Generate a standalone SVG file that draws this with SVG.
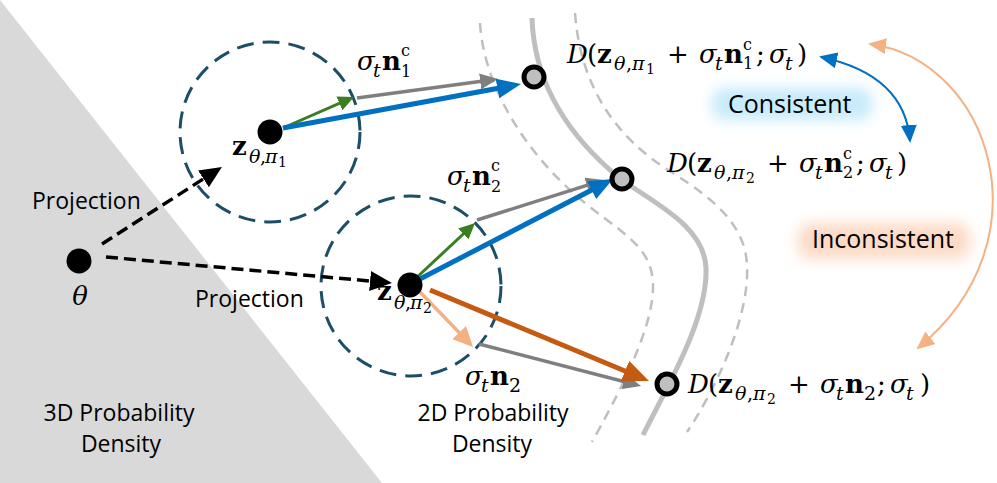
<svg xmlns="http://www.w3.org/2000/svg" width="997" height="483" viewBox="0 0 997 483">
<style>
.m{font-family:"DejaVu Serif","Liberation Serif",serif;font-size:26px;fill:#000}
.i{font-style:italic}
.b{font-weight:bold}
.s{font-size:19px}
.ss{font-size:14px}
.sc{font-size:16px}
.lbl{font-family:"Open Sans","Noto Sans","Liberation Sans",sans-serif;font-size:23px;fill:#000}
.big{font-size:25px}
.dens{fill:none;stroke:#bfbfbf;stroke-width:2.5;stroke-dasharray:10 7}
.circ{fill:none;stroke:#1d4e66;stroke-width:3;stroke-dasharray:17 9}
.pt{fill:#000}
.tgt{fill:#bfbfbf;stroke:#000;stroke-width:5}
</style>
<defs>
<filter id="glow" x="-50%" y="-100%" width="200%" height="300%"><feGaussianBlur stdDeviation="7"/></filter>
<marker id="hBlue" markerUnits="userSpaceOnUse" markerWidth="24" markerHeight="20" refX="12" refY="10" orient="auto"><path d="M0,0 L24,10 L0,20 z" fill="#0070c0"/></marker>
<marker id="hGray" markerUnits="userSpaceOnUse" markerWidth="18" markerHeight="16" refX="9" refY="8" orient="auto"><path d="M0,0 L18,8 L0,16 z" fill="#7f7f7f"/></marker>
<marker id="hGreen" markerUnits="userSpaceOnUse" markerWidth="16" markerHeight="15" refX="8" refY="7.5" orient="auto"><path d="M0,0 L16,7.5 L0,15 z" fill="#3a7d22"/></marker>
<marker id="hOrange" markerUnits="userSpaceOnUse" markerWidth="26" markerHeight="22" refX="13" refY="11" orient="auto"><path d="M0,0 L26,11 L0,22 z" fill="#c55a11"/></marker>
<marker id="hPeach" markerUnits="userSpaceOnUse" markerWidth="20" markerHeight="19" refX="10" refY="9.5" orient="auto"><path d="M0,0 L20,9.5 L0,19 z" fill="#f4b183"/></marker>
<marker id="hBlack" markerUnits="userSpaceOnUse" markerWidth="22" markerHeight="20" refX="11" refY="10" orient="auto"><path d="M0,0 L22,10 L0,20 z" fill="#000"/></marker>
<marker id="hBlueS" markerUnits="userSpaceOnUse" markerWidth="18" markerHeight="16" refX="16" refY="8" orient="auto-start-reverse"><path d="M0,0 L18,8 L0,16 z" fill="#0070c0"/></marker>
<marker id="hPeachS" markerUnits="userSpaceOnUse" markerWidth="18" markerHeight="16" refX="16" refY="8" orient="auto-start-reverse"><path d="M0,0 L18,8 L0,16 z" fill="#f4b183"/></marker>
</defs>

<g id="background">
<polygon points="0,0 382,483 0,483" fill="#d9d9d9"/>
</g>

<g id="density-curves">
<path d="M532,18 C534,80 565,130 610,170 C640,198 704,220 706,268 C708,320 665,390 643,435" fill="none" stroke="#bfbfbf" stroke-width="5"/>
<path class="dens" d="M480,23 C484,90 530,160 590,207 C630,238 652,250 653,285 C654,330 615,400 592,442"/>
<path class="dens" d="M575,13 C580,80 610,135 673,173 C715,200 745,225 747,265 C750,320 712,395 687,432"/>
</g>

<g id="glows">
<rect x="712" y="88" width="160" height="32" rx="12" fill="#c6ebfb" filter="url(#glow)"/>
<rect x="798" y="223" width="172" height="36" rx="12" fill="#fcdac6" filter="url(#glow)"/>
</g>

<g id="circle1"><circle class="circ" cx="270" cy="132" r="90"/></g>
<g id="circle2"><circle class="circ" cx="411" cy="286" r="90"/></g>

<g id="connectors">
<line x1="102" y1="244" x2="212.7" y2="172.9" stroke="#000" stroke-width="3.5" stroke-dasharray="12 6" marker-end="url(#hBlack)"/>
<line x1="106" y1="257" x2="381" y2="282" stroke="#000" stroke-width="3.5" stroke-dasharray="12 6" marker-end="url(#hBlack)"/>
<line x1="357" y1="98" x2="489.1" y2="80.2" stroke="#7f7f7f" stroke-width="3.5" marker-end="url(#hGray)"/>
<line x1="283" y1="128" x2="346.7" y2="100.2" stroke="#3a7d22" stroke-width="3" marker-end="url(#hGreen)"/>
<line x1="283" y1="128" x2="509.2" y2="86.2" stroke="#0070c0" stroke-width="5" marker-end="url(#hBlue)"/>
<line x1="477" y1="220" x2="595.4" y2="182.7" stroke="#7f7f7f" stroke-width="3.5" marker-end="url(#hGray)"/>
<line x1="414" y1="280" x2="469.2" y2="228.5" stroke="#3a7d22" stroke-width="3" marker-end="url(#hGreen)"/>
<line x1="418" y1="280" x2="602.3" y2="184.5" stroke="#0070c0" stroke-width="5" marker-end="url(#hBlue)"/>
<line x1="479" y1="344" x2="632.3" y2="383.7" stroke="#7f7f7f" stroke-width="3.5" marker-end="url(#hGray)"/>
<line x1="430" y1="290" x2="637" y2="376" stroke="#c55a11" stroke-width="5" marker-end="url(#hOrange)"/>
<line x1="420" y1="292" x2="466.1" y2="339.8" stroke="#f4b183" stroke-width="3.5" marker-end="url(#hPeach)"/>
<path d="M821,57 Q905,75 910,141" fill="none" stroke="#0070c0" stroke-width="2" marker-start="url(#hBlueS)" marker-end="url(#hBlueS)"/>
<path d="M870,44 C990,60 1050,240 918,348" fill="none" stroke="#f4b183" stroke-width="2" marker-start="url(#hPeachS)" marker-end="url(#hPeachS)"/>
</g>

<g id="theta">
<circle class="pt" cx="79" cy="261" r="12.5"/>
<text class="m i" x="80" y="305" text-anchor="middle" font-size="28">θ</text>
</g>

<g id="z1">
<circle class="pt" cx="270" cy="132" r="12.5"/>
<text class="m" y="155"><tspan x="232" class="b">z</tspan><tspan x="249" y="163" class="i s">θ</tspan><tspan x="260" class="s">,</tspan><tspan x="265" class="i s">π</tspan><tspan x="278" y="167" class="ss">1</tspan></text>
</g>

<g id="z2">
<circle class="pt" cx="410" cy="285" r="12.5"/>
<text class="m" y="300"><tspan x="377" class="b">z</tspan><tspan x="394" y="309" class="i s">θ</tspan><tspan x="405" class="s">,</tspan><tspan x="410" class="i s">π</tspan><tspan x="423" y="313" class="ss">2</tspan></text>
</g>

<g id="lbl-n1c">
<text class="m" y="70"><tspan x="357" class="i">σ</tspan><tspan x="373" y="77" class="i s">t</tspan><tspan x="382" y="70" class="b">n</tspan><tspan x="401" y="56" class="sc">c</tspan><tspan x="401" y="77" class="sc">1</tspan></text>
</g>
<g id="lbl-n2c">
<text class="m" y="185"><tspan x="447" class="i">σ</tspan><tspan x="463" y="192" class="i s">t</tspan><tspan x="472" y="185" class="b">n</tspan><tspan x="491" y="171" class="sc">c</tspan><tspan x="491" y="192" class="sc">2</tspan></text>
</g>
<g id="lbl-n2">
<text class="m" y="385"><tspan x="465" class="i">σ</tspan><tspan x="481" y="392" class="i s">t</tspan><tspan x="490" y="385" class="b">n</tspan><tspan x="509" y="392" class="s">2</tspan></text>
</g>

<g id="target1">
<circle class="tgt" cx="534" cy="77" r="10"/>
<text class="m" y="63"><tspan x="567" class="i">D</tspan><tspan x="587">(</tspan><tspan x="597" class="b">z</tspan><tspan x="614" y="70" class="i s">θ</tspan><tspan x="626" class="s">,</tspan><tspan x="632" class="i s">π</tspan><tspan x="646" y="74" class="ss">1</tspan><tspan x="667" y="63">+</tspan><tspan x="699" class="i">σ</tspan><tspan x="715" y="70" class="i s">t</tspan><tspan x="724" y="63" class="b">n</tspan><tspan x="743" y="50" class="sc">c</tspan><tspan x="743" y="69" class="sc">1</tspan><tspan x="756" y="63">;</tspan><tspan x="769" class="i">σ</tspan><tspan x="785" y="70" class="i s">t</tspan><tspan x="797" y="63">)</tspan></text>
</g>
<g id="target2">
<circle class="tgt" cx="622" cy="179" r="10"/>
<text class="m" y="172"><tspan x="667" class="i">D</tspan><tspan x="687">(</tspan><tspan x="697" class="b">z</tspan><tspan x="714" y="179" class="i s">θ</tspan><tspan x="726" class="s">,</tspan><tspan x="732" class="i s">π</tspan><tspan x="746" y="183" class="ss">2</tspan><tspan x="767" y="172">+</tspan><tspan x="799" class="i">σ</tspan><tspan x="815" y="179" class="i s">t</tspan><tspan x="824" y="172" class="b">n</tspan><tspan x="843" y="159" class="sc">c</tspan><tspan x="843" y="178" class="sc">2</tspan><tspan x="856" y="172">;</tspan><tspan x="869" class="i">σ</tspan><tspan x="885" y="179" class="i s">t</tspan><tspan x="897" y="172">)</tspan></text>
</g>
<g id="target3">
<circle class="tgt" cx="667" cy="384" r="10"/>
<text class="m" y="393"><tspan x="688" class="i">D</tspan><tspan x="708">(</tspan><tspan x="718" class="b">z</tspan><tspan x="735" y="400" class="i s">θ</tspan><tspan x="747" class="s">,</tspan><tspan x="753" class="i s">π</tspan><tspan x="767" y="404" class="ss">2</tspan><tspan x="788" y="393">+</tspan><tspan x="820" class="i">σ</tspan><tspan x="836" y="400" class="i s">t</tspan><tspan x="845" y="393" class="b">n</tspan><tspan x="864" y="400" class="s">2</tspan><tspan x="877" y="393">;</tspan><tspan x="890" class="i">σ</tspan><tspan x="906" y="400" class="i s">t</tspan><tspan x="920" y="393">)</tspan></text>
</g>

<g id="labels">
<text class="lbl" x="32" y="209">Projection</text>
<text class="lbl" x="195" y="307">Projection</text>
<text class="lbl" x="119" y="421" text-anchor="middle">3D Probability</text>
<text class="lbl" x="121" y="452" text-anchor="middle">Density</text>
<text class="lbl" x="493" y="421" text-anchor="middle">2D Probability</text>
<text class="lbl" x="492" y="452" text-anchor="middle">Density</text>
<text class="lbl big" x="728" y="113">Consistent</text>
<text class="lbl big" x="812" y="248">Inconsistent</text>
</g>
</svg>
